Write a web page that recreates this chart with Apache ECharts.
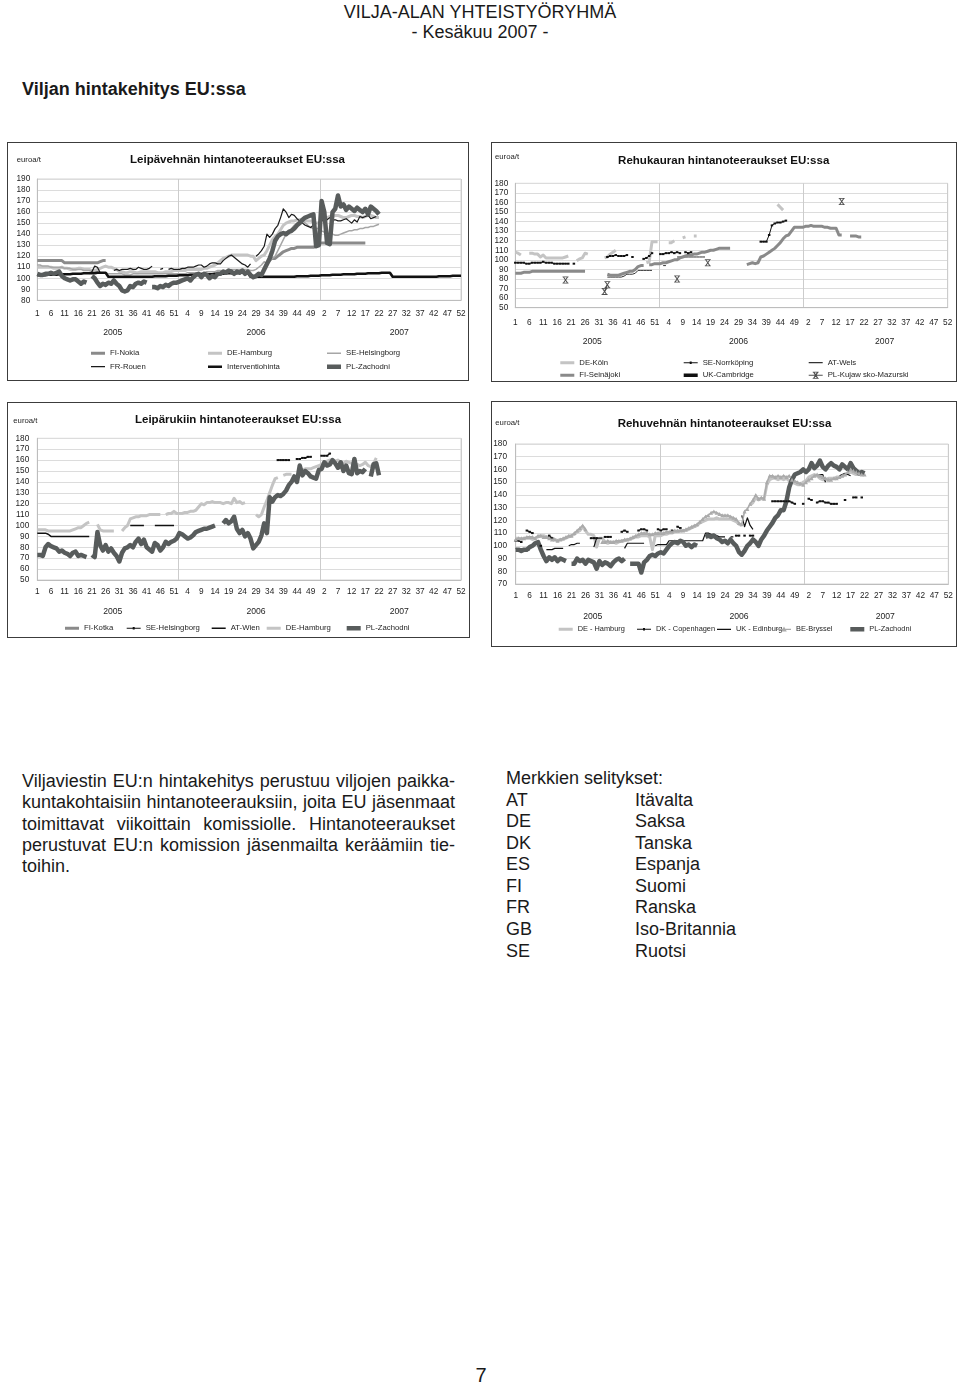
<!DOCTYPE html>
<html lang="fi">
<head>
<meta charset="utf-8">
<title>Viljan hintakehitys EU:ssa</title>
<script src="https://cdn.jsdelivr.net/npm/echarts@6/dist/echarts.min.js"></script>
<style>
html,body{margin:0;padding:0;background:#fff;}
body{position:relative;width:960px;height:1384px;overflow:hidden;font-family:"Liberation Sans",Arial,Helvetica,sans-serif;color:#1a1a1a;}
.txt{position:absolute;white-space:nowrap;}
.chart{position:absolute;}
.frame{position:absolute;border:1.5px solid #3c3c3c;box-sizing:border-box;pointer-events:none;}
.para{position:absolute;left:22px;top:771px;width:433px;font-size:18px;line-height:21.3px;}
.para div{white-space:nowrap;text-align:justify;text-align-last:justify;}
.para div.last{text-align-last:left;}
.key{position:absolute;left:506px;top:768px;font-size:18px;line-height:21.57px;}
.key div{white-space:nowrap;}
.key span{display:inline-block;width:129px;}
</style>
</head>
<body>
<div class="txt" style="left:0;width:960px;text-align:center;top:2px;font-size:18px;line-height:20px;">VILJA-ALAN YHTEISTYÖRYHMÄ</div>
<div class="txt" style="left:0;width:960px;text-align:center;top:22px;font-size:18px;line-height:20px;">- Kesäkuu 2007 -</div>
<div class="txt" style="left:22px;top:79px;font-size:18px;line-height:20px;font-weight:bold;">Viljan hintakehitys EU:ssa</div>

<div class="chart" id="c1" style="left:7px;top:142px;width:462px;height:239px;"></div>
<div class="chart" id="c2" style="left:491px;top:142px;width:466px;height:240px;"></div>
<div class="chart" id="c3" style="left:7px;top:402px;width:463px;height:236px;"></div>
<div class="chart" id="c4" style="left:491px;top:401px;width:466px;height:246px;"></div>
<div class="frame" style="left:7px;top:142px;width:462px;height:239px;"></div>
<div class="frame" style="left:491px;top:142px;width:466px;height:240px;"></div>
<div class="frame" style="left:7px;top:402px;width:463px;height:236px;"></div>
<div class="frame" style="left:491px;top:401px;width:466px;height:246px;"></div>

<div class="para">
<div>Viljaviestin EU:n hintakehitys perustuu viljojen paikka-</div>
<div>kuntakohtaisiin hintanoteerauksiin, joita EU jäsenmaat</div>
<div>toimittavat viikoittain komissiolle. Hintanoteeraukset</div>
<div>perustuvat EU:n komission jäsenmailta keräämiin tie-</div>
<div class="last">toihin.</div>
</div>
<div class="key">
<div>Merkkien selitykset:</div>
<div><span>AT</span>Itävalta</div>
<div><span>DE</span>Saksa</div>
<div><span>DK</span>Tanska</div>
<div><span>ES</span>Espanja</div>
<div><span>FI</span>Suomi</div>
<div><span>FR</span>Ranska</div>
<div><span>GB</span>Iso-Britannia</div>
<div><span>SE</span>Ruotsi</div>
</div>
<div class="txt" style="left:0;width:962px;text-align:center;top:1364px;font-size:20px;line-height:22px;">7</div>

<script>
const _ = null;
// ---------- axis categories ----------
const years = ['2005', '2006', '2007'];
const weeksPerYear = 52;
const weekCats = [];
years.forEach(y => { for (let w = 1; w <= weeksPerYear; w++) weekCats.push(y + '/' + w); });

// ================= Chart 1: Leipävehnä =================
const c1_fiNokia_2005 = [116,116,116,116,116,116,116,116,116,116, 114,114,114,114,114,114,114,114,114,114, 114,114,114,115,116,116];
const c1_fiNokia_2006 = [_,_,_,_,_,_,_,_,_,_, _,_,_,_,_,_,_,_,_,_, _,_,_,_,_,_,_,_,_,_, _,_,113,117,118,118,120,122,124,125, 126,127,127,128,128,128,128,128,128,128, 129,132];
const c1_fiNokia_2007 = [132,132,132,132,132,132,132,132,132,132, 132,132,132,132,132,132,132];

const c1_deHamburg_2005 = [110,110,110,110,110,110,109,109,109,110, 109,109,108,108,108,109,109,108,108,108, 107,107,108,109,110,111,110,110,109,108, 106,106,105,105,106,106,105,105,106,106, 106,106,106,106,105,105,105,106,106,106, 107,107];
const c1_deHamburg_2006 = [107,107,107,108,108,108,108,108,108,109, 109,110,111,112,114,116,118,119,120,121, 121,121,121,121,121,121,120,120,116,118, 120,121,125,130,135,138,140,144,148,150, 151,152,152,153,153,153,152,152,152,151, 150,150];
const c1_deHamburg_2007 = [152,154,155,156,156,157,157,156,155,155, 156,157,157,156,156,155,156,157,157,156, 155,155];

const c1_seHelsingborg_2005 = [112,112,111,111,111,110,110,110,110,110, 109,109,109,108,108,108,108,107,107,107, 106,106,106,105,105,105,104,104,104,104, 104,104,103,103,103,104,104,104,104,104, 104,104,104,104,104,104,104,104,104,104, 104,104];
const c1_seHelsingborg_2006 = [104,104,104,105,105,105,105,105,105,105, 106,106,106,106,107,107,107,107,107,108, 108,108,108,108,108,108,107,107,108,110, 112,115,113,115,118,120,125,130,135,140, 142,145,148,150,152,152,150,148,146,145, 145,145];
const c1_seHelsingborg_2007 = [143,142,141,140,140,139,139,140,141,142, 143,143,144,144,145,145,146,146,147,147, 148,149];

const c1_frRouen_2005 = [_,_,_,_,_,_,_,_,_,_, _,_,_,_,_,_,_,_,_,104, 106,111,110,105,105,_,_,_,107,108, 107,108,108,108,109,108,108,110,109,108, 108,109,111,_,_,108,109,_,108,109, 108,108];
const c1_frRouen_2006 = [108,109,109,110,110,110,111,112,112,110, 111,113,114,114,113,113,116,118,120,121, 119,117,115,113,112,110,113,_,120,122, 125,129,140,137,140,145,148,155,163,160, 155,158,157,154,152,150,148,147,146,148, 150,_];
const c1_frRouen_2007 = [152,154,153,155,153,153,152,152,153,154, 152,150,153,151,156,155,156,157,154,155, 156];

const c1_interv_2005 = [102.7,102.7,102.7,102.7, 103.2,103.2,103.2,103.2, 103.6,103.6,103.6,103.6,103.6, 104.1,104.1,104.1,104.1, 104.5,104.5,104.5,104.5,104.5, 105.0,105.0,105.0,105.0, 101.3,101.3,101.3,101.3, 101.3,101.3,101.3,101.3,101.3, 101.3,101.3,101.3,101.3, 101.3,101.3,101.3,101.3, 101.8,101.8,101.8,101.8,101.8, 102.2,102.2,102.2,102.2];
const c1_interv_2006 = [102.7,102.7,102.7,102.7, 103.2,103.2,103.2,103.2, 103.6,103.6,103.6,103.6,103.6, 104.1,104.1,104.1,104.1, 104.5,104.5,104.5,104.5,104.5, 105.0,105.0,105.0,105.0, 101.3,101.3,101.3,101.3, 101.3,101.3,101.3,101.3,101.3, 101.3,101.3,101.3,101.3, 101.3,101.3,101.3,101.3, 101.8,101.8,101.8,101.8,101.8, 102.2,102.2,102.2,102.2];
const c1_interv_2007 = [102.7,102.7,102.7,102.7, 103.2,103.2,103.2,103.2, 103.6,103.6,103.6,103.6,103.6, 104.1,104.1,104.1,104.1, 104.5,104.5,104.5,104.5,104.5, 105.0,105.0,105.0,105.0, 101.3,101.3,101.3,101.3, 101.3,101.3,101.3,101.3,101.3, 101.3,101.3,101.3,101.3, 101.3,101.3,101.3,101.3, 101.8,101.8,101.8,101.8,101.8, 102.2,102.2,102.2,102.2];

const c1_plZachodni_2005 = [104,103,103,104,104,105,104,105,106,102, 100,99,98,99,99,97,95,97,96,_, 102,100,96,93,95,94,96,95,98,95, 93,89,88,89,93,92,95,96,95,97, 96,_,92,92,91,93,92,94,93,95, 96,96];
const c1_plZachodni_2006 = [97,98,99,100,98,101,103,104,101,104, 103,100,102,101,104,104,106,105,107,106, 104,106,105,107,104,106,103,101,102,104, 103,108,113,118,125,134,138,140,141,140, 142,143,145,148,150,153,155,156,157,158, 129,130];
const c1_plZachodni_2007 = [170,160,132,131,160,163,175,165,167,162, 165,163,161,164,162,160,163,158,165,163, 161,158];

// ================= Chart 2: Rehukaura =================
const c2_deKoln_2005 = [108,107,105,_,_,107,107,106,106,103, 105,102,102,102,102,102,102,102,103,104, _,_,99,101,102,107,106,_,_,_, _,_,102,103,106,108,110,_,_,_, _,_,_,_,_,_,_,97,98,119, 119,119];
const c2_deKoln_2006 = [_,_,_,118,118,120,_,_,123,124, _,_,125,125,_,_,_,_,_,_, _,_,_,_,_,_,_,_,_,_, _,_,_,_,_,_,_,_,_,_, _,_,158,155,152];
const c2_deKoln_2007 = [];

const c2_seNorrkoping_2005 = [97,97,97,97,96,96,97,97,97,97, 98,97,97,97,96,96,96,96,96,96, _,96,_,_,_,_,_,_,_,_, _,_,_,103,104,104,105,104,104,104, 105,_,103,_,_,_,101,102,104,107, _,_];
const c2_seNorrkoping_2006 = [106,106,107,107,108,107,108,107,_,108, 107,108,_,_,_,_,_,_,_,_, _,_,_,_,_,_,_,_,_,_, _,_,_,_,_,_,119,119,119,126, 136,138,139,139,140,141];
const c2_seNorrkoping_2007 = [];

const c2_atWels_2005 = [_,_,_,_,_,_,_,_,_,_, _,_,_,_,_,_,_,_,_,_, _,_,_,_,_,_,_,_,_,_, _,_,_,82,82,82,82,82,82,83, 85,85,85,86,89,89,89,89,89,89];
const c2_atWels_2006 = [_,94,94,_,_,_,103,103,103,103, 103,103,103,103,103,103,103];
const c2_atWels_2007 = [];

const c2_fiSeinajoki_2005 = [86,86,86,87,87,87,88,88,88,88, 88,88,88,88,88,88,88,88,88,88, 88,88,88,88,88,88,_,89,_,_, _,_,_,85,84,84,84,84,85,86, 87,88,88,90,93,94,94,_,95,95, 96,96];
const c2_fiSeinajoki_2006 = [96,97,97,98,99,100,100,102,103,104, 105,105,106,106,107,108,108,109,110,110, 111,112,112,112,112,112,_,_,_,_, _,95,96,97,96,97,103,104,106,108, 110,112,115,118,122,125,126,130,134,134, 134,134];
const c2_fiSeinajoki_2007 = [135,135,136,135,135,135,135,134,134,133, 133,133,126,126,_,_,125,125,125,124, 124];

const c2_ukCambridge_2005 = [];
const c2_ukCambridge_2006 = [];
const c2_ukCambridge_2007 = [];

const c2_plKujawsko_2005 = [_,_,_,_,_,_,_,_,_,_, _,_,_,_,_,_,_,_,79,_, _,_,_,_,_,_,_,_,_,_, _,_,67,74];
const c2_plKujawsko_2006 = [_,_,_,_,_,_,80,_,_,_, _,_,_,_,_,_,_,97];
const c2_plKujawsko_2007 = [_,_,_,_,_,_,_,_,_,_, _,_,_,161];

// ================= Chart 3: Leipäruis =================
const c3_fiKotka_2005 = [];
const c3_fiKotka_2006 = [];
const c3_fiKotka_2007 = [];

const c3_seHelsingborg_2005 = [];
const c3_seHelsingborg_2006 = [_,_,_,_,_,_,_,_,_,_, _,_,_,_,_,_,_,_,_,_, _,_,_,_,_,_,_,_,_,_, _,_,_,_,_,_,160,160,160,160, 160,_,_,161,161,162,162,163,163];
const c3_seHelsingborg_2007 = [164,164,164,166];

const c3_atWien_2005 = [93,93,93,93,92,90,90,90,90,90, 90,90,90,90,90,90,90,90,90,90, _,_,_,_,_,_,_,_,_,_, _,_,_,_,100,100,100,100,100,100, _,_,_,100,100,100,100,100,100,100, 100,_];
const c3_atWien_2006 = [_,100];
const c3_atWien_2007 = [];

const c3_deHamburg_2005 = [96,96,96,96,95,95,95,95,95,95, 95,95,95,96,97,98,98,100,102,103, _,_,101,96,95,95,95,95,95,_, _,95,98,100,106,107,108,108,109,109, 109,110,110,110,110,110,_,110,111,111, 113,111];
const c3_deHamburg_2006 = [111,111,112,112,113,113,114,117,120,119, 121,121,122,121,121,121,120,121,121,120, 125,121,122,120,121,_,120,_,110,108, 110,117,123,130,137,143,144,_,146,147, 147,147,_,149,150,151,152,152,152,153, 154,155];
const c3_deHamburg_2007 = [156,158,159,160,160,159,160,158,157,159, 158,157,156,156,155,156,158,155,154,157, 162];

const c3_plZachodni_2005 = [73,73,72,80,83,81,80,79,76,77, 75,74,72,75,76,72,73,72,71,_, 73,71,94,82,77,82,76,79,75,72, 67,75,79,80,82,80,85,88,83,87, 80,78,76,84,82,77,80,85,83,85, 86,88];
const c3_plZachodni_2006 = [93,92,90,88,89,91,94,95,96,97, 97,98,99,100,_,_,102,105,102,104, 108,97,93,96,90,93,88,79,82,85, 91,102,93,126,122,126,128,127,129,132, 137,140,145,140,155,146,150,148,145,144, 143,151];
const c3_plZachodni_2007 = [152,158,155,156,160,157,153,158,150,155, 148,147,161,148,150,149,152,_,145,156, 157,146];

// ================= Chart 4: Rehuvehnä =================
const c4_deHamburg_2005 = [106,106,105,106,106,106,105,106,107,108, 108,107,107,106,105,104,105,105,106,107, 108,109,111,112,115,112,109,109,108,99, 106,106,103,102,103,103,102,103,104,104, 105,105,106,107,107,108,108,108,107,97, 108,108];
const c4_deHamburg_2006 = [108,109,109,110,110,111,111,112,112,112, 113,114,115,116,118,119,120,121,121,121, 122,121,121,121,121,121,120,119,117,116, _,_,132,134,138,136,137,137,148,152, 153,153,152,153,152,153,151,150,149,148, 148,150];
const c4_deHamburg_2007 = [151,154,155,156,155,153,152,152,153,153, 153,154,154,155,156,157,158,157,156,156, 157,157];

const c4_dkCopenhagen_2005 = [104,104,103,_,112,111,110,_,_,100, _,_,108,106,_,_,_,_,_,_, _,_,_,_,_,_,_,106,106,106, _,_,107,107,107,_,_,_,111,112, 111,_,_,_,112,113,113,112,_,_, _,113];
const c4_dkCopenhagen_2006 = [112,113,113,_,112,_,115,114,_,_, _,_,_,_,_,_,_,_,_,_, _,_,_,_,_,_,_,108,108,_, 108,_,108,108,_,_,_,_,_,_, 135,135,135,135,135,135,135,134,133,_, _,133];
const c4_dkCopenhagen_2007 = [_,137,136,_,134,135,135,134,134,133, 133,133,_,_,136,_,_,138,138,_, 138];

const c4_ukEdinburg_2005 = [98,97,97,97,96,97,_,_,101,101, _,97,97,97,98,98,98,98,_,100, 101,101,102,102,_,_,_,_,99,106, 106,106,_,_,_,_,_,_,_,98, 102,102,102,102,102,102,102,_,_,_, 100,101];
const c4_ukEdinburg_2006 = [101,101,101,104,104,104,104,104,104,104, 104,104,104,104,104,104,110,110,109,109, 108,107,107,107,_,107,107,_,_,124, 115,122,116,113];
const c4_ukEdinburg_2007 = [_,_,_,_,155,156,156,150,_,_, _,_,155,156,157,156,155];

const c4_beBryssel_2005 = [105,106,106,106,107,107,107,106,108,108, 107,107,106,105,105,104,105,106,107,108, 108,110,112,114,116,113,_,_,_,_, _,103,103,104,103,103,104,104,104,105, 105,106,107,108,109,110,110,110,109,109, 110,110];
const c4_beBryssel_2006 = [110,110,111,111,111,112,112,112,112,113, 114,115,116,117,119,121,123,124,126,127, 126,125,124,124,124,123,122,121,118,117, 127,129,133,136,140,137,138,137,150,155, 155,154,155,154,155,154,155,152,151,150, 149,148];
const c4_beBryssel_2007 = [150,152,153,155,156,155,154,153,152,152, 153,153,154,155,156,158,160,159,158,157, 156,156];

const c4_plZachodni_2005 = [97,97,96,97,97,99,100,102,103,97, 92,88,91,89,91,88,90,89,88,_, 86,86,90,88,89,86,89,88,87,82, 88,85,87,86,84,87,89,90,88,90, _,86,86,86,86,79,87,89,92,93, 92,94];
const c4_plZachodni_2006 = [95,94,97,100,102,103,102,104,103,100, 101,99,101,100,_,_,107,108,107,108, 106,105,103,104,102,105,102,100,95,93, 96,100,102,105,103,100,105,108,112,115, 118,122,124,128,128,135,146,152,156,157, 158,160];
const c4_plZachodni_2007 = [158,160,165,161,163,167,162,160,163,165, 163,162,160,164,162,160,165,161,159,157, 158,157];

// ---------- helpers ----------
function pad(a) {
  if (a.length > weeksPerYear) console.error('too many weeks', a.length);
  return a.concat(new Array(Math.max(0, weeksPerYear - a.length)).fill(null));
}
function join3(a, b, c) { return pad(a).concat(pad(b), c); }

function hasFont(name) {
  const ctx = document.createElement('canvas').getContext('2d');
  const s = 'abcdefghijklmnopqrstuvwxyz0123456789';
  ctx.font = '40px monospace';
  const w0 = ctx.measureText(s).width;
  ctx.font = '40px "' + name + '", monospace';
  return ctx.measureText(s).width !== w0;
}
const NARROW = hasFont('Liberation Sans Narrow');
const FF = NARROW ? '"Liberation Sans Narrow", "Liberation Sans", sans-serif' : '"Liberation Sans", Arial, sans-serif';
const K = NARROW ? 1 : 0.9;
const TXT = '#1e1e1e';

// legend icon paths in a 14x10 box
const IW = 14, IH = 10;
const ANCH = 'M0,0h0.01v0.01h-0.01z M13.99,9.99h0.01v0.01h-0.01z ';
function lineIcon(w) { return 'path://' + ANCH + 'M0,' + (5 - w / 2) + 'H14V' + (5 + w / 2) + 'H0Z'; }
const MARK_RECT = ' M6,3.8H8V6.2H6Z';
const MARK_TRI = ' M7,2.2L9.8,7.2H4.2Z';
const MARK_X = ' M4,1.5H5.5L10,8.5H8.5Z M8.5,1.5H10L5.5,8.5H4Z M4,1.5H10V2.3H4Z M4,7.7H10V8.5H4Z';
const X_SYMBOL = 'path://M0,0H2L10,12H8Z M8,0H10L2,12H0Z M0,0H10V1.4H0Z M0,10.6H10V12H0Z';

function buildChart(domId, spec) {
  const el = document.getElementById(domId);
  const chart = echarts.init(el, null, { renderer: 'canvas' });
  const g = spec.grid;
  const pxIdx = g.width / (weekCats.length - 1);
  const series = spec.series.map(s => ({
    type: 'line', name: s.name, data: s.data,
    xAxisIndex: 0, yAxisIndex: 0,
    color: s.color,
    symbol: s.symbol || 'none', symbolSize: s.symbolSize || 0,
    showSymbol: !!s.symbol, showAllSymbol: true,
    connectNulls: false, smooth: false,
    lineStyle: { color: s.color, width: s.width, cap: 'butt', join: 'round' },
    itemStyle: { color: s.color, borderWidth: 0 },
    emphasis: { disabled: true }, silent: true, animation: false
  }));
  const legends = spec.legends.map(L => {
    const s = spec.series.find(q => q.name === L.name);
    return {
      data: [{ name: L.name, icon: s.icon }],
      left: L.text - IW - 5, top: L.y - IH / 2,
      orient: 'horizontal', padding: 0, itemGap: 0,
      itemWidth: IW, itemHeight: IH, symbolKeepAspect: true,
      selectedMode: false,
      textStyle: { fontFamily: FF, fontSize: (spec.legendFont || 8.6) * K, color: TXT, lineHeight: 10 }
    };
  });
  const option = {
    animation: false,
    backgroundColor: '#ffffff',
    textStyle: { fontFamily: FF },
    grid: [
      { left: g.left, top: g.top, width: g.width, height: g.height, show: true, borderColor: '#d4d4d4', borderWidth: 1, containLabel: false, outerBoundsMode: 'none' },
      { left: g.left + 1.4 * pxIdx, top: g.top, width: 157.2 * pxIdx, height: g.height, show: false, containLabel: false, outerBoundsMode: 'none' }
    ],
    xAxis: [
      { gridIndex: 0, type: 'category', data: weekCats, boundaryGap: false,
        axisLine: { show: true, lineStyle: { color: '#bdbdbd', width: 1 } }, axisTick: { show: false },
        axisLabel: { interval: 4, formatter: v => v.split('/')[1], fontFamily: FF, fontSize: 9.2 * K, color: TXT, margin: spec.weekMargin, hideOverlap: false },
        splitLine: { show: false } },
      { gridIndex: 0, type: 'category', data: years, boundaryGap: true, position: 'bottom',
        axisLine: { show: false }, axisTick: { show: false }, axisLabel: { show: false },
        splitLine: { show: true, lineStyle: { color: '#cccccc', width: 1 } } },
      { gridIndex: 1, type: 'category', data: years, boundaryGap: true, position: 'bottom',
        axisLine: { show: false }, axisTick: { show: false },
        axisLabel: { show: true, fontFamily: FF, fontSize: 9.6 * K, color: TXT, margin: spec.yearMargin },
        splitLine: { show: false } }
    ],
    yAxis: [
      { gridIndex: 0, type: 'value', min: spec.yMin, max: spec.yMax, interval: 10,
        axisLine: { show: true, lineStyle: { color: '#bdbdbd', width: 1 } }, axisTick: { show: false },
        axisLabel: { fontFamily: FF, fontSize: 9.2 * K, color: TXT, margin: spec.yMargin },
        splitLine: { show: true, lineStyle: { color: '#dcdcdc', width: 1 } } },
      { gridIndex: 1, type: 'value', show: false, min: 0, max: 1 }
    ],
    legend: legends,
    graphic: [
      { type: 'text', x: spec.title.x, y: spec.title.y, silent: true,
        style: { text: spec.title.text, align: 'center', verticalAlign: 'middle', fill: '#111', font: 'bold ' + (12.8 * K) + 'px ' + FF } },
      { type: 'text', x: spec.unit.x, y: spec.unit.y, silent: true,
        style: { text: 'euroa/t', align: 'left', verticalAlign: 'middle', fill: TXT, font: (8.6 * K) + 'px ' + FF } }
    ],
    series: series
  };
  chart.setOption(option);
  return chart;
}

// ---------- chart 1 ----------
buildChart('c1', {
  grid: { left: 30.3, top: 37, width: 423.7, height: 121.3 },
  yMin: 80, yMax: 190, yMargin: 7, weekMargin: 9, yearMargin: 28,
  title: { text: 'Leipävehnän hintanoteeraukset EU:ssa', x: 230.5, y: 18 },
  unit: { x: 9.7, y: 18 },
  series: [
    { name: 'FI-Nokia', data: join3(c1_fiNokia_2005, c1_fiNokia_2006, c1_fiNokia_2007), color: '#8a8a8a', width: 3, icon: lineIcon(3) },
    { name: 'DE-Hamburg', data: join3(c1_deHamburg_2005, c1_deHamburg_2006, c1_deHamburg_2007), color: '#c4c4c4', width: 3, icon: lineIcon(3) },
    { name: 'SE-Helsingborg', data: join3(c1_seHelsingborg_2005, c1_seHelsingborg_2006, c1_seHelsingborg_2007), color: '#a6a6a6', width: 1.5, icon: lineIcon(1.5) },
    { name: 'FR-Rouen', data: join3(c1_frRouen_2005, c1_frRouen_2006, c1_frRouen_2007), color: '#1a1a1a', width: 1.2, icon: lineIcon(1.3) },
    { name: 'Interventiohinta', data: join3(c1_interv_2005, c1_interv_2006, c1_interv_2007), color: '#111111', width: 2.6, icon: lineIcon(2.6) },
    { name: 'PL-Zachodni', data: join3(c1_plZachodni_2005, c1_plZachodni_2006, c1_plZachodni_2007), color: '#585c5c', width: 4.5, icon: lineIcon(4.5) }
  ],
  legends: [
    { name: 'FI-Nokia', text: 103, y: 211.3 }, { name: 'DE-Hamburg', text: 220, y: 211.3 }, { name: 'SE-Helsingborg', text: 339, y: 211.3 },
    { name: 'FR-Rouen', text: 103, y: 224.7 }, { name: 'Interventiohinta', text: 220, y: 224.7 }, { name: 'PL-Zachodni', text: 339, y: 224.7 }
  ]
});

// ---------- chart 2 ----------
buildChart('c2', {
  grid: { left: 24.3, top: 41.3, width: 432.4, height: 124.4 },
  yMin: 50, yMax: 180, yMargin: 7, weekMargin: 11.5, yearMargin: 29,
  title: { text: 'Rehukauran hintanoteeraukset EU:ssa', x: 232.7, y: 18.7 },
  unit: { x: 4, y: 14.7 },
  series: [
    { name: 'DE-Köln', data: join3(c2_deKoln_2005, c2_deKoln_2006, c2_deKoln_2007), color: '#c4c4c4', width: 3, icon: lineIcon(3) },
    { name: 'SE-Norrköping', data: join3(c2_seNorrkoping_2005, c2_seNorrkoping_2006, c2_seNorrkoping_2007), color: '#111111', width: 1, symbol: 'rect', symbolSize: [2.5, 2], icon: 'path://' + ANCH + 'M0,4.5H14V5.5H0Z' + MARK_RECT },
    { name: 'AT-Wels', data: join3(c2_atWels_2005, c2_atWels_2006, c2_atWels_2007), color: '#333333', width: 1, icon: lineIcon(1.2) },
    { name: 'FI-Seinäjoki', data: join3(c2_fiSeinajoki_2005, c2_fiSeinajoki_2006, c2_fiSeinajoki_2007), color: '#8a8a8a', width: 3, icon: lineIcon(3) },
    { name: 'UK-Cambridge', data: join3(c2_ukCambridge_2005, c2_ukCambridge_2006, c2_ukCambridge_2007), color: '#111111', width: 3.5, icon: lineIcon(3.5) },
    { name: 'PL-Kujaw sko-Mazurski', data: join3(c2_plKujawsko_2005, c2_plKujawsko_2006, c2_plKujawsko_2007), color: '#505050', width: 1.2, symbol: X_SYMBOL, symbolSize: [6, 7], icon: 'path://' + ANCH + 'M0,4.5H14V5.5H0Z' + MARK_X }
  ],
  legends: [
    { name: 'DE-Köln', text: 88.3, y: 220.7 }, { name: 'SE-Norrköping', text: 211.7, y: 220.7 }, { name: 'AT-Wels', text: 336.7, y: 220.7 },
    { name: 'FI-Seinäjoki', text: 88.3, y: 233.3 }, { name: 'UK-Cambridge', text: 211.7, y: 233.3 }, { name: 'PL-Kujaw sko-Mazurski', text: 336.7, y: 233.3 }
  ]
});

// ---------- chart 3 ----------
buildChart('c3', {
  grid: { left: 30.3, top: 36.3, width: 423.7, height: 141.7 },
  yMin: 50, yMax: 180, yMargin: 8, weekMargin: 8.2, yearMargin: 27.5,
  title: { text: 'Leipärukiin hintanoteeraukset EU:ssa', x: 231, y: 18 },
  unit: { x: 6.3, y: 18.7 },
  series: [
    { name: 'FI-Kotka', data: join3(c3_fiKotka_2005, c3_fiKotka_2006, c3_fiKotka_2007), color: '#8a8a8a', width: 3, icon: lineIcon(3) },
    { name: 'SE-Helsingborg', data: join3(c3_seHelsingborg_2005, c3_seHelsingborg_2006, c3_seHelsingborg_2007), color: '#111111', width: 1.2, symbol: 'rect', symbolSize: [2.5, 2], icon: 'path://' + ANCH + 'M0,4.5H14V5.5H0Z' + MARK_RECT },
    { name: 'AT-Wien', data: join3(c3_atWien_2005, c3_atWien_2006, c3_atWien_2007), color: '#111111', width: 1.5, icon: lineIcon(1.4) },
    { name: 'DE-Hamburg', data: join3(c3_deHamburg_2005, c3_deHamburg_2006, c3_deHamburg_2007), color: '#c4c4c4', width: 3, icon: lineIcon(3) },
    { name: 'PL-Zachodni', data: join3(c3_plZachodni_2005, c3_plZachodni_2006, c3_plZachodni_2007), color: '#585c5c', width: 4.5, icon: lineIcon(4.5) }
  ],
  legends: [
    { name: 'FI-Kotka', text: 77, y: 226.3 }, { name: 'SE-Helsingborg', text: 138.7, y: 226.3 }, { name: 'AT-Wien', text: 223.7, y: 226.3 },
    { name: 'DE-Hamburg', text: 278.7, y: 226.3 }, { name: 'PL-Zachodni', text: 358.7, y: 226.3 }
  ]
});

// ---------- chart 4 ----------
buildChart('c4', {
  grid: { left: 24.7, top: 43, width: 432.6, height: 140 },
  yMin: 70, yMax: 180, yMargin: 8.7, weekMargin: 8.2, yearMargin: 28.5,
  legendFont: 8.2,
  title: { text: 'Rehuvehnän hintanoteeraukset EU:ssa', x: 233.5, y: 23 },
  unit: { x: 4.3, y: 22.3 },
  series: [
    { name: 'DE - Hamburg', data: join3(c4_deHamburg_2005, c4_deHamburg_2006, c4_deHamburg_2007), color: '#c4c4c4', width: 3, icon: lineIcon(3) },
    { name: 'DK - Copenhagen', data: join3(c4_dkCopenhagen_2005, c4_dkCopenhagen_2006, c4_dkCopenhagen_2007), color: '#111111', width: 1.2, symbol: 'rect', symbolSize: [2.5, 2], icon: 'path://' + ANCH + 'M0,4.5H14V5.5H0Z' + MARK_RECT },
    { name: 'UK - Edinburg', data: join3(c4_ukEdinburg_2005, c4_ukEdinburg_2006, c4_ukEdinburg_2007), color: '#111111', width: 1.2, icon: lineIcon(1.3) },
    { name: 'BE-Bryssel', data: join3(c4_beBryssel_2005, c4_beBryssel_2006, c4_beBryssel_2007), color: '#ababab', width: 1.6, symbol: 'triangle', symbolSize: 4, icon: 'path://' + ANCH + 'M0,4.4H14V5.6H0Z' + MARK_TRI },
    { name: 'PL-Zachodni', data: join3(c4_plZachodni_2005, c4_plZachodni_2006, c4_plZachodni_2007), color: '#585c5c', width: 4.5, icon: lineIcon(4.5) }
  ],
  legends: [
    { name: 'DE - Hamburg', text: 86.7, y: 228.3 }, { name: 'DK - Copenhagen', text: 165, y: 228.3 }, { name: 'UK - Edinburg', text: 245, y: 228.3 },
    { name: 'BE-Bryssel', text: 305, y: 228.3 }, { name: 'PL-Zachodni', text: 378.3, y: 228.3 }
  ]
});
</script>
</body>
</html>
